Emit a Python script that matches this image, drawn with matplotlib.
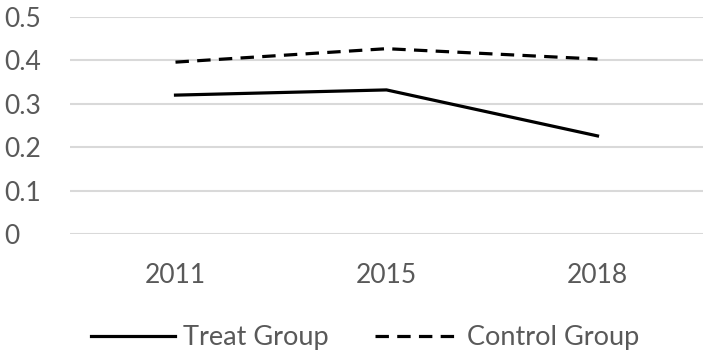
import numpy as np
import matplotlib.pyplot as plt

# data
years = ['2011', '2015', '2018']
treat = [0.32, 0.332, 0.226]
control = [0.396, 0.427, 0.403]
yticks = [0, 0.1, 0.2, 0.3, 0.4, 0.5]

plt.rcParams['font.family'] = ['Lato', 'DejaVu Sans']
grey = '#595959'

fig = plt.figure(figsize=(7.09, 3.6), dpi=100)
ax = fig.add_axes([70/709, 1 - 234/360, 633/709, 217/360])

x = np.arange(len(years))
ax.plot(x, treat, color='black', linewidth=2.3, label='Treat Group')
ax.plot(x, control, color='black', linewidth=2.3, linestyle=(0, (4.2, 2.6)), label='Control Group')

ax.set_xlim(-0.5, 2.5)
ax.set_ylim(0, 0.5)
ax.set_yticks(yticks)
ax.set_yticklabels(['0', '0.1', '0.2', '0.3', '0.4', '0.5'])
ax.set_xticks(x)
ax.set_xticklabels(years)
ax.grid(axis='y', color='#d9d9d9', linewidth=1.5)
ax.set_axisbelow(True)
for s in ax.spines.values():
    s.set_visible(False)
ax.tick_params(length=0, labelsize=19, colors=grey)
ax.tick_params(axis='y', pad=47)
ax.tick_params(axis='x', pad=21)
for lbl in ax.get_yticklabels():
    lbl.set_horizontalalignment('left')

fig.legend(loc='center', bbox_to_anchor=(0.515, 1 - 338/360), ncol=2, frameon=False,
           fontsize=19.5, labelcolor=grey, handlelength=3.1, columnspacing=1.68, handletextpad=0.3)

fig.savefig('out.png', dpi=100)
